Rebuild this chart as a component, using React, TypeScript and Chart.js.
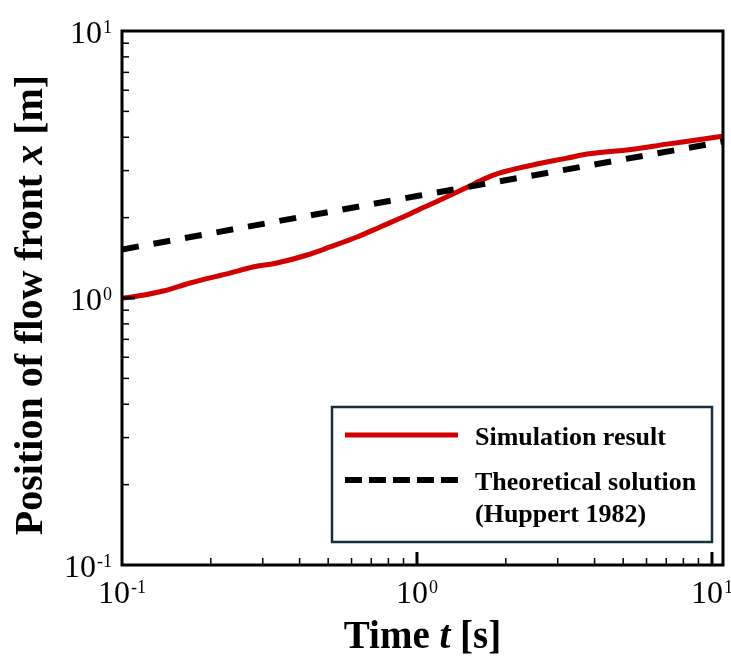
import React, { useEffect, useRef } from "react";
import { Chart, registerables } from "chart.js";

Chart.register(...registerables);

// ---- data ----
const SIM_LABEL = "Simulation result";
const SIM_T = [0.1, 0.109, 0.138, 0.17, 0.232, 0.278, 0.335, 0.424, 0.507, 0.626, 0.75, 0.925, 1.02, 1.197, 1.48, 1.7, 1.91, 2.47, 3.22, 3.77, 5.4, 7.04, 9.11, 10.9];
const SIM_X = [1.0, 1.01, 1.062, 1.138, 1.24, 1.306, 1.352, 1.449, 1.553, 1.692, 1.845, 2.04, 2.15, 2.33, 2.6, 2.8, 2.94, 3.15, 3.34, 3.46, 3.61, 3.77, 3.92, 4.04];

const THEORY_LABEL = ["Theoretical solution", "(Huppert 1982)"];
const THEORY_T = [0.1, 1, 10.9];
const THEORY_X = [1.52, 2.41, 3.85];

const X_MIN = 0.1;
const X_MAX = 10.9;
const Y_MIN = 0.1;
const Y_MAX = 10;
const MAJOR_TICKS = [0.1, 1, 10];
const MAJOR_EXPONENTS = ["-1", "0", "1"];
const MINOR_MULTIPLIERS = [2, 3, 4, 5, 6, 7, 8, 9];

const X_TITLE = [
  { text: "Time ", italic: false },
  { text: "t", italic: true },
  { text: " [s]", italic: false },
];
const Y_TITLE = [
  { text: "Position of flow front ", italic: false },
  { text: "x", italic: true },
  { text: " [m]", italic: false },
];

// ---- styles ----
const SERIF = "'Liberation Serif', 'Times New Roman', serif";
const RED = "#d20000";
const LEGEND_BORDER = "#16303e";

function drawPower(ctx: CanvasRenderingContext2D, exp: string, x: number, baseline: number, align: "center" | "right") {
  ctx.font = `32px ${SERIF}`;
  const w1 = ctx.measureText("10").width;
  ctx.font = `18px ${SERIF}`;
  const w2 = ctx.measureText(exp).width;
  const total = w1 + 1 + w2;
  const x0 = align === "center" ? x - total / 2 : x - total;
  ctx.fillStyle = "#000";
  ctx.textAlign = "left";
  ctx.textBaseline = "alphabetic";
  ctx.font = `32px ${SERIF}`;
  ctx.fillText("10", x0, baseline);
  ctx.font = `18px ${SERIF}`;
  ctx.fillText(exp, x0 + w1 + 1, baseline - 10);
}

function drawSegments(ctx: CanvasRenderingContext2D, segs: { text: string; italic: boolean }[], size: number, cx: number, baseline: number) {
  const fontFor = (it: boolean) => `${it ? "italic " : ""}bold ${size}px ${SERIF}`;
  let total = 0;
  const widths = segs.map((s) => {
    ctx.font = fontFor(s.italic);
    const w = ctx.measureText(s.text).width;
    total += w;
    return w;
  });
  let x = cx - total / 2;
  ctx.fillStyle = "#000";
  ctx.textAlign = "left";
  ctx.textBaseline = "alphabetic";
  segs.forEach((s, i) => {
    ctx.font = fontFor(s.italic);
    ctx.fillText(s.text, x, baseline);
    x += widths[i];
  });
}

const decor = {
  id: "decor",
  afterDatasetsDraw(chart: any) {
    const ctx: CanvasRenderingContext2D = chart.ctx;
    const { left, right, top, bottom } = chart.chartArea;
    const xs = chart.scales.x;
    const ys = chart.scales.y;
    ctx.save();

    // ticks (inward)
    ctx.strokeStyle = "#000";
    ctx.lineCap = "butt";
    const decades = [0.1, 1, 10];
    decades.forEach((d) => {
      MINOR_MULTIPLIERS.forEach((m) => {
        const v = d * m;
        if (v > X_MIN && v < X_MAX) {
          const px = xs.getPixelForValue(v);
          ctx.lineWidth = 1.5;
          ctx.beginPath();
          ctx.moveTo(px, bottom);
          ctx.lineTo(px, bottom - 7);
          ctx.stroke();
        }
        if (v > Y_MIN && v < Y_MAX) {
          const py = ys.getPixelForValue(v);
          ctx.lineWidth = 1.5;
          ctx.beginPath();
          ctx.moveTo(left, py);
          ctx.lineTo(left + 7, py);
          ctx.stroke();
        }
      });
    });
    MAJOR_TICKS.forEach((v) => {
      if (v > X_MIN && v <= X_MAX) {
        const px = xs.getPixelForValue(v);
        ctx.lineWidth = 3;
        ctx.beginPath();
        ctx.moveTo(px, bottom);
        ctx.lineTo(px, bottom - 13);
        ctx.stroke();
      }
      if (v > Y_MIN && v < Y_MAX) {
        const py = ys.getPixelForValue(v);
        ctx.lineWidth = 3;
        ctx.beginPath();
        ctx.moveTo(left, py);
        ctx.lineTo(left + 13, py);
        ctx.stroke();
      }
    });

    // frame
    ctx.lineWidth = 3;
    ctx.strokeStyle = "#000";
    ctx.strokeRect(left, top, right - left, bottom - top);

    // tick labels
    MAJOR_TICKS.forEach((v, i) => {
      const px = xs.getPixelForValue(v);
      drawPower(ctx, MAJOR_EXPONENTS[i], px, bottom + 38, "center");
      const py = ys.getPixelForValue(v);
      drawPower(ctx, MAJOR_EXPONENTS[i], left - 10, py + 12, "right");
    });

    // axis titles
    drawSegments(ctx, X_TITLE, 39, (left + right) / 2, 648);
    ctx.save();
    ctx.translate(42, (top + bottom) / 2 + 7);
    ctx.rotate(-Math.PI / 2);
    drawSegments(ctx, Y_TITLE, 40, 0, 0);
    ctx.restore();

    // legend
    const lx = 332, ly = 407, lw = 380, lh = 135;
    ctx.fillStyle = "#fff";
    ctx.fillRect(lx, ly, lw, lh);
    ctx.lineWidth = 2.5;
    ctx.strokeStyle = LEGEND_BORDER;
    ctx.strokeRect(lx, ly, lw, lh);

    const ds = chart.data.datasets;
    const sim = ds.find((d: any) => d.label === SIM_LABEL);
    const th = ds.find((d: any) => d.label !== SIM_LABEL);

    ctx.setLineDash([]);
    ctx.lineWidth = 5;
    ctx.strokeStyle = sim.borderColor;
    ctx.beginPath();
    ctx.moveTo(345, 435);
    ctx.lineTo(458, 435);
    ctx.stroke();

    ctx.setLineDash([17, 7]);
    ctx.lineWidth = 6;
    ctx.strokeStyle = th.borderColor;
    ctx.beginPath();
    ctx.moveTo(345, 480);
    ctx.lineTo(458, 480);
    ctx.stroke();
    ctx.setLineDash([]);

    ctx.fillStyle = "#000";
    ctx.textAlign = "left";
    ctx.textBaseline = "alphabetic";
    ctx.font = `bold 26px ${SERIF}`;
    ctx.fillText(SIM_LABEL, 475, 445);
    const thLabel: string[] = THEORY_LABEL;
    ctx.fillText(thLabel[0], 475, 490);
    ctx.fillText(thLabel[1], 475, 522);

    ctx.restore();
  },
};

export default function App() {
  const ref = useRef<HTMLCanvasElement>(null);
  useEffect(() => {
    const canvas = ref.current!;
    const chart = new Chart(canvas, {
      type: "line",
      data: {
        datasets: [
          {
            label: THEORY_LABEL.join(" "),
            data: THEORY_T.map((t, i) => ({ x: t, y: THEORY_X[i] })),
            borderColor: "#000",
            borderWidth: 6,
            borderDash: [17, 15],
            pointRadius: 0,
            fill: false,
            order: 0,
          },
          {
            label: SIM_LABEL,
            data: SIM_T.map((t, i) => ({ x: t, y: SIM_X[i] })),
            borderColor: RED,
            borderWidth: 5,
            pointRadius: 0,
            fill: false,
            cubicInterpolationMode: "monotone",
            order: 1,
          },
        ],
      },
      options: {
        animation: false,
        responsive: false,
        devicePixelRatio: 1,
        layout: { padding: { left: 122, top: 31, right: 8, bottom: 92 } },
        plugins: { legend: { display: false }, tooltip: { enabled: false } },
        scales: {
          x: { type: "logarithmic", min: X_MIN, max: X_MAX, display: false },
          y: { type: "logarithmic", min: Y_MIN, max: Y_MAX, display: false },
        },
      },
      plugins: [decor],
    } as any);
    return () => chart.destroy();
  }, []);
  return (
    <div style={{ position: "fixed", left: 0, top: 0, width: 731, height: 657, background: "#fff" }}>
      <canvas ref={ref} width={731} height={657} style={{ width: 731, height: 657, display: "block" }} />
    </div>
  );
}
